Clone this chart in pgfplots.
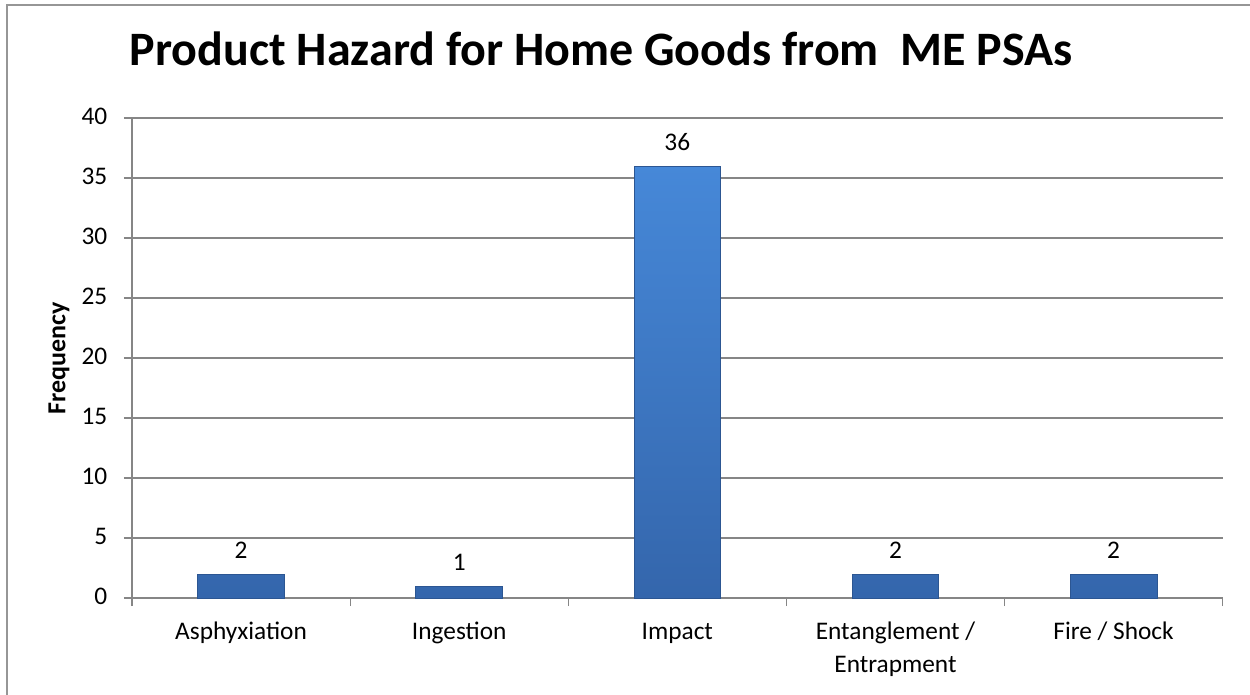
\documentclass[border=0pt]{standalone}
\usepackage{fontspec}
\setmainfont{Carlito}
\usepackage{pgfplots}
\pgfplotsset{compat=1.18}

\definecolor{gridgray}{RGB}{134,134,134}
\definecolor{framegray}{RGB}{150,150,150}
\definecolor{bartop}{RGB}{70,136,216}
\definecolor{barbottom}{RGB}{52,102,172}
\definecolor{baredge}{RGB}{44,86,146}

\begin{document}
\begin{tikzpicture}
\useasboundingbox (0,0) rectangle (937.5pt,520.5pt);
\begin{scope}
\clip (0,0) rectangle (937.5pt,520.5pt);
\draw[framegray, line width=1.2pt] (5.25pt,-20pt) -- (5.25pt,516.75pt) -- (960pt,516.75pt);
\end{scope}

\node[font=\fontsize{36}{42}\selectfont\bfseries, anchor=center] at (451pt,484pt)
  {Product Hazard for Home Goods from~~ME PSAs};

\begin{axis}[
  at={(99pt,72pt)}, anchor=south west,
  scale only axis,
  width=818pt, height=360pt,
  xmin=-0.5, xmax=4.5,
  ymin=0, ymax=40,
  ytick={0,5,...,40},
  xtick={-0.5,0.5,...,4.5},
  xticklabels={},
  extra x ticks={0,1,2,3,4},
  extra x tick labels={Asphyxiation,Ingestion,Impact,{Entanglement /\\Entrapment},Fire / Shock},
  extra x tick style={major tick length=0pt, grid=none,
    tick label style={align=center, anchor=north, yshift=-10pt}},
  typeset ticklabels with strut,
  ymajorgrids,
  grid style={gridgray, line width=0.9pt},
  axis line style={gridgray, line width=0.9pt},
  axis x line*=bottom,
  axis y line*=left,
  major tick style={gridgray, line width=0.9pt},
  major tick length=6pt,
  tick align=outside,
  tick label style={font=\fontsize{19}{25}\selectfont, black},
  yticklabel style={xshift=-9pt},
  /pgf/number format/assume math mode=true,
  ylabel={Frequency},
  ylabel style={font=\fontsize{19.5}{22}\selectfont\bfseries, anchor=center,
    at={(axis description cs:-0.067,0.5)}},
  ybar, bar width=65pt,
  nodes near coords,
  every node near coord/.append style={font=\fontsize{19}{25}\selectfont, black, yshift=8pt},
  clip=false,
]
\addplot[draw=baredge, line width=0.6pt, top color=bartop, bottom color=barbottom]
  coordinates {(0,2) (1,1) (2,36) (3,2) (4,2)};
\end{axis}
\end{tikzpicture}
\end{document}
